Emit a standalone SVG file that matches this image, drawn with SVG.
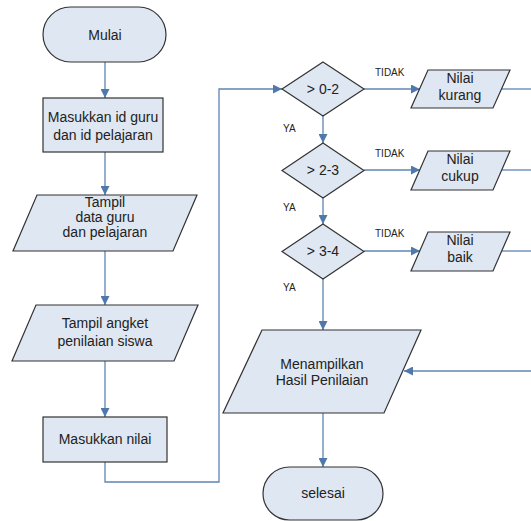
<svg xmlns="http://www.w3.org/2000/svg" width="531" height="521" viewBox="0 0 531 521">
<defs>
<marker id="arr" viewBox="0 0 10 10" refX="10" refY="5" markerWidth="9" markerHeight="9" markerUnits="userSpaceOnUse" orient="auto">
<path d="M0,0 L10,5 L0,10 z" fill="#4f78ab"/>
</marker>
<style>
.shape{fill:#dfe7f2;stroke:#333;stroke-width:1.2}
.t{font-family:"Liberation Sans",Arial,sans-serif;font-size:14px;fill:#222;text-anchor:middle}
.s{font-family:"Liberation Sans",Arial,sans-serif;font-size:10px;fill:#222}
.c{fill:none;stroke:#5f84b3;stroke-width:1.3}
.a{marker-end:url(#arr)}
</style>
</defs>
<rect width="531" height="521" fill="#fff"/>
<g id="connectors">
<line class="c a" x1="105" y1="62" x2="105" y2="98"/>
<line class="c a" x1="105" y1="152" x2="105" y2="195"/>
<line class="c a" x1="105" y1="251" x2="105" y2="305"/>
<line class="c a" x1="105" y1="361" x2="105" y2="417"/>
<polyline class="c a" points="105,462 105,482 219,482 219,89 282,89"/>
<line class="c a" x1="323" y1="116" x2="323" y2="143"/>
<line class="c a" x1="323" y1="198" x2="323" y2="224"/>
<line class="c a" x1="323" y1="279" x2="323" y2="330"/>
<line class="c a" x1="364" y1="89" x2="420" y2="89"/>
<line class="c a" x1="364" y1="170" x2="420" y2="170"/>
<line class="c a" x1="364" y1="251" x2="420" y2="251"/>
<line class="c" x1="501" y1="89" x2="531" y2="89"/>
<line class="c" x1="501" y1="170" x2="531" y2="170"/>
<line class="c" x1="501" y1="251" x2="531" y2="251"/>
<line class="c a" x1="531" y1="371" x2="404" y2="371"/>
<line class="c a" x1="323" y1="413" x2="323" y2="467"/>
<text class="s" x="375" y="76">TIDAK</text>
<text class="s" x="375" y="157">TIDAK</text>
<text class="s" x="375" y="237">TIDAK</text>
<text class="s" x="283" y="132">YA</text>
<text class="s" x="283" y="211">YA</text>
<text class="s" x="283" y="291">YA</text>
</g>
<g id="mulai">
<rect class="shape" x="43" y="7" width="123" height="55" rx="27.5"/>
<text class="t" x="105" y="40">Mulai</text>
</g>
<g id="input-id">
<rect class="shape" x="43" y="98" width="120" height="54"/>
<text class="t" x="103" y="122">Masukkan id guru</text>
<text class="t" x="103" y="140">dan id pelajaran</text>
</g>
<g id="tampil-data">
<polygon class="shape" points="37,195 197,195 173,251 13,251"/>
<text class="t" x="105" y="207">Tampil</text>
<text class="t" x="105" y="222">data guru</text>
<text class="t" x="105" y="237">dan pelajaran</text>
</g>
<g id="tampil-angket">
<polygon class="shape" points="36,305 198,305 174,361 12,361"/>
<text class="t" x="105" y="328">Tampil angket</text>
<text class="t" x="105" y="346">penilaian siswa</text>
</g>
<g id="input-nilai">
<rect class="shape" x="43" y="417" width="124" height="45"/>
<text class="t" x="105" y="444">Masukkan nilai</text>
</g>
<g id="d1">
<polygon class="shape" points="323,62 364,89 323,116 282,89"/>
<text class="t" x="323" y="94">&gt; 0-2</text>
</g>
<g id="d2">
<polygon class="shape" points="323,143 364,170.5 323,198 282,170.5"/>
<text class="t" x="323" y="175">&gt; 2-3</text>
</g>
<g id="d3">
<polygon class="shape" points="323,224 364,251.5 323,279 282,251.5"/>
<text class="t" x="323" y="256">&gt; 3-4</text>
</g>
<g id="kurang">
<polygon class="shape" points="428,70 510,70 493,108 411,108"/>
<text class="t" x="460" y="83">Nilai</text>
<text class="t" x="460" y="100">kurang</text>
</g>
<g id="cukup">
<polygon class="shape" points="428,151 510,151 493,190 411,190"/>
<text class="t" x="460" y="164">Nilai</text>
<text class="t" x="460" y="181">cukup</text>
</g>
<g id="baik">
<polygon class="shape" points="428,232 510,232 493,271 411,271"/>
<text class="t" x="460" y="245">Nilai</text>
<text class="t" x="460" y="262">baik</text>
</g>
<g id="hasil">
<polygon class="shape" points="262,330 421,330 384,413 223,413"/>
<text class="t" x="322" y="369">Menampilkan</text>
<text class="t" x="322" y="385">Hasil Penilaian</text>
</g>
<g id="selesai">
<rect class="shape" x="263" y="467" width="120" height="53" rx="26.5"/>
<text class="t" x="323" y="498">selesai</text>
</g>
</svg>
